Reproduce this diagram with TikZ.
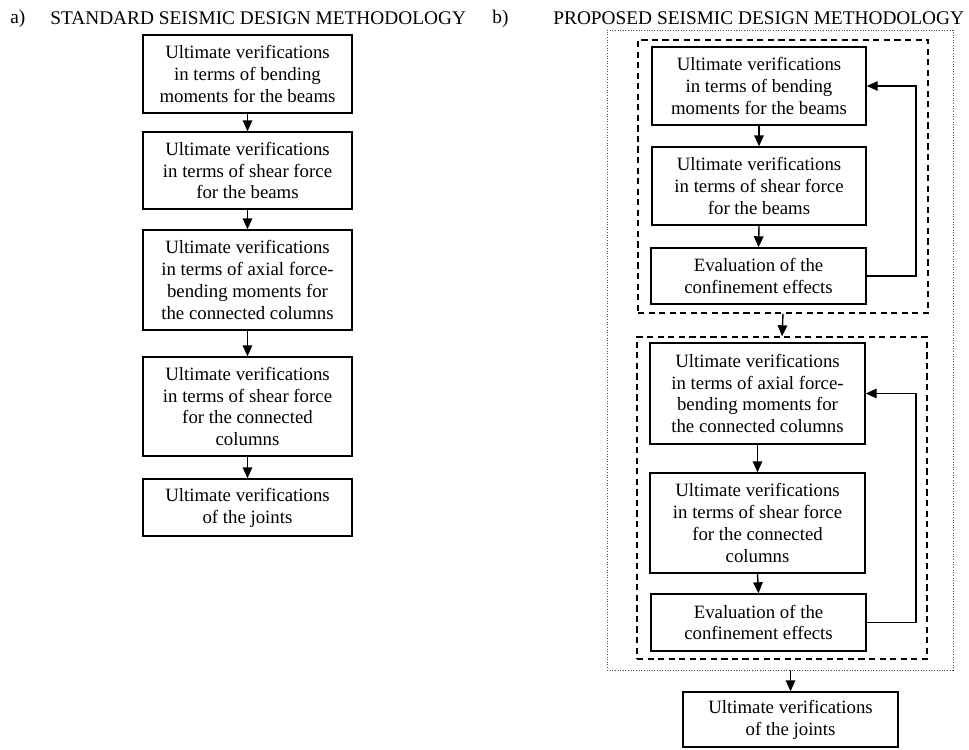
\documentclass[tikz,border=0pt]{standalone}
\usepackage{fontspec}
\setmainfont{Liberation Serif}
\usetikzlibrary{arrows, arrows.meta, positioning}
\tikzset{
	block/.style={draw, line width=0.8pt, align=center, inner sep=1pt, font=\fontsize{10.7}{12.4}\selectfont},
	group/.style={draw, dash pattern=on 3.5pt off 2.5pt, line width=0.8pt},
	outer/.style={draw, densely dotted, line width=0.5pt, black!70},
	title/.style={anchor=west, inner sep=0pt, font=\fontsize{11}{13}\selectfont},
	link/.style={-{Triangle[length=2.2mm, width=1.9mm]}, line width=0.8pt}
}
\begin{document}
\begin{tikzpicture}
		\useasboundingbox (0,0) rectangle (19.38,-14.98);
		
		% a) standard methodology
		\node[title] (la) at (0.2,-0.37) {a)};
		\node[title] (ta) at (1.0,-0.37) {STANDARD SEISMIC DESIGN METHODOLOGY};
		
		\node[block, minimum width=4.18cm, minimum height=1.56cm] (sbend) at (4.95,-1.48) {Ultimate verifications \\ in terms of bending \\ moments for the beams};
		\node[block, minimum width=4.18cm, minimum height=1.54cm] (sshear) at (4.95,-3.41) {Ultimate verifications \\ in terms of shear force \\ for the beams};
		\node[block, minimum width=4.18cm, minimum height=2cm] (saxial) at (4.95,-5.6) {Ultimate verifications \\ in terms of axial force- \\ bending moments for \\ the connected columns};
		\node[block, minimum width=4.18cm, minimum height=1.98cm] (scol) at (4.95,-8.13) {Ultimate verifications \\ in terms of shear force \\ for the connected \\ columns};
		\node[block, minimum width=4.18cm, minimum height=1.14cm] (sjoint) at (4.95,-10.15) {Ultimate verifications \\ of the joints};
		
		\draw[link] (sbend.south)  -- (sshear.north);
		\draw[link] (sshear.south) -- (saxial.north);
		\draw[link] (saxial.south) -- (scol.north);
		\draw[link] (scol.south)   -- (sjoint.north);
		
		% b) proposed methodology
		\node[title] (lb) at (9.84,-0.37) {b)};
		\node[title] (tb) at (11.06,-0.37) {PROPOSED SEISMIC DESIGN METHODOLOGY};
		
		\node[outer, minimum width=6.92cm, minimum height=12.8cm] (all) at (15.6,-7.0) {};
		\node[group, minimum width=5.8cm, minimum height=5.46cm] (beams) at (15.66,-3.53) {};
		\node[group, minimum width=5.8cm, minimum height=6.44cm] (cols) at (15.64,-9.96) {};
		
		\node[block, minimum width=4.28cm, minimum height=1.56cm] (pbend) at (15.18,-1.72) {Ultimate verifications \\ in terms of bending \\ moments for the beams};
		\node[block, minimum width=4.28cm, minimum height=1.56cm] (pshear) at (15.18,-3.72) {Ultimate verifications \\ in terms of shear force \\ for the beams};
		\node[block, minimum width=4.3cm, minimum height=1.12cm] (pconf1) at (15.17,-5.52) {Evaluation of the \\ confinement effects};
		
		\node[block, minimum width=4.3cm, minimum height=2.02cm] (paxial) at (15.15,-7.87) {Ultimate verifications \\ in terms of axial force- \\ bending moments for \\ the connected columns};
		\node[block, minimum width=4.3cm, minimum height=2cm] (pcol) at (15.15,-10.46) {Ultimate verifications \\ in terms of shear force \\ for the connected \\ columns};
		\node[block, minimum width=4.3cm, minimum height=1.14cm] (pconf2) at (15.17,-12.45) {Evaluation of the \\ confinement effects};
		
		\node[block, minimum width=4.3cm, minimum height=1.1cm] (pjoint) at (15.81,-14.39) {Ultimate verifications \\ of the joints};
		
		\coordinate (back1) at (18.32,0);
		\coordinate (back2) at (18.32,0);
		
		\draw[link] (pbend.south)  -- (pshear.north);
		\draw[link] (pshear.south) -- (pconf1.north);
		\draw[link] (pconf1.east)  -- (back1 |- pconf1.east) -- (back1 |- pbend.east) -- (pbend.east);
		\draw[link] (beams.south)  -- (cols.north);
		\draw[link] (paxial.south) -- (pcol.north);
		\draw[link] (pcol.south)   -- (pconf2.north);
		\draw[link] (pconf2.east)  -- (back2 |- pconf2.east) -- (back2 |- paxial.east) -- (paxial.east);
		\draw[link] (pjoint.north |- all.south) -- (pjoint.north);
	\end{tikzpicture}
\end{document}
